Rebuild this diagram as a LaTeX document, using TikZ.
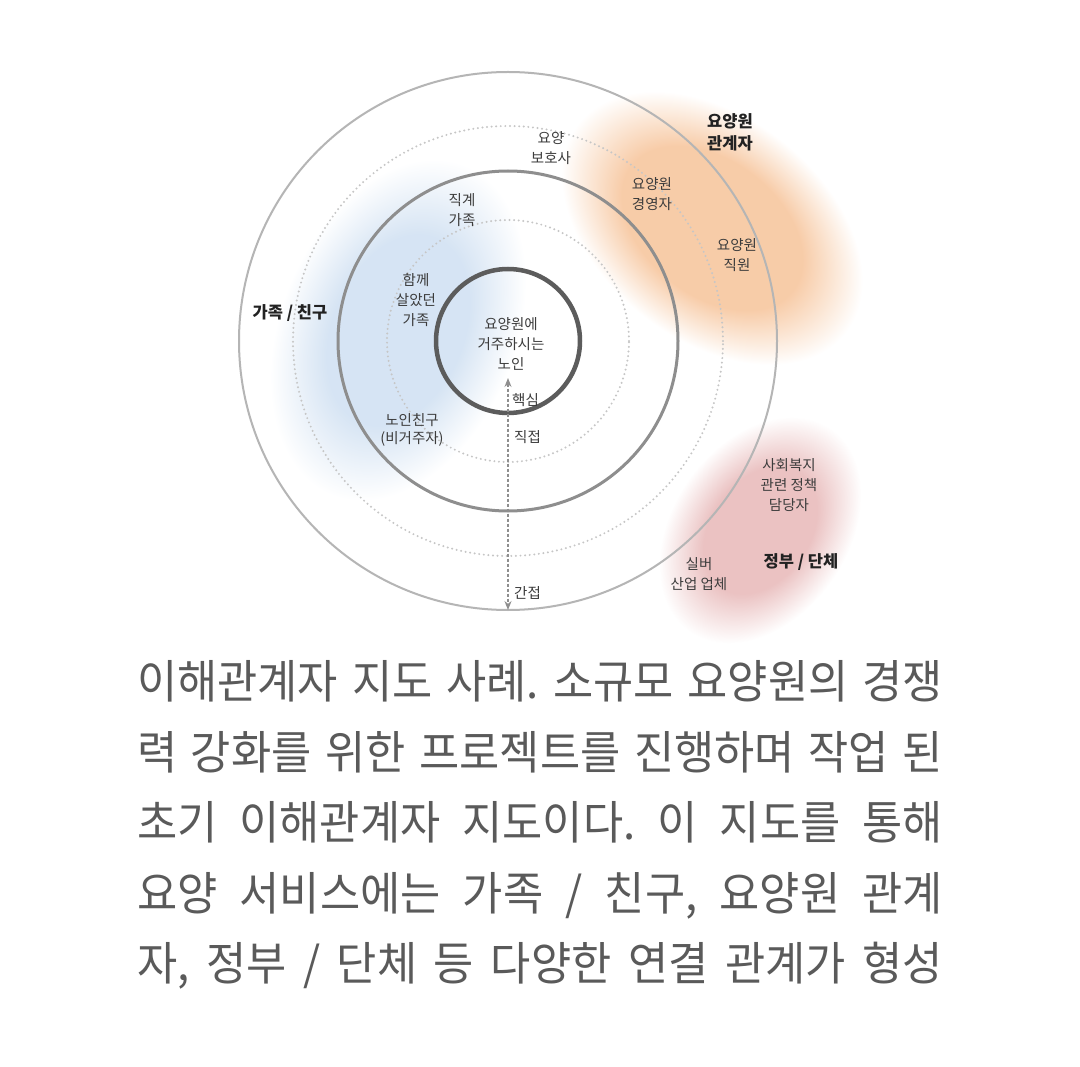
\documentclass[tikz,border=0pt]{standalone}
\usepackage{fontspec}
\setmainfont{Noto Sans CJK KR}
\newfontfamily\capfont[FakeStretch=0.95]{Noto Sans CJK KR}
\usetikzlibrary{shapes,arrows,arrows.meta}
\frenchspacing

\definecolor{ringlight}{HTML}{B5B5B5}
\definecolor{ringmid}{HTML}{8E8E8E}
\definecolor{ringdark}{HTML}{5C5C5C}
\definecolor{dotgray}{HTML}{C6C6C6}
\definecolor{labeltext}{HTML}{3C3C3C}
\definecolor{grouptext}{HTML}{222222}
\definecolor{captext}{HTML}{5A5A5A}

\pgfdeclareradialshading{blueblob}{\pgfpoint{0bp}{0bp}}{rgb(0bp)=(0.84,0.895,0.955); rgb(14bp)=(0.84,0.895,0.955); rgb(25bp)=(1,1,1); rgb(50bp)=(1,1,1)}
\pgfdeclareradialshading{orangeblob}{\pgfpoint{0bp}{0bp}}{rgb(0bp)=(0.97,0.80,0.66); rgb(15bp)=(0.97,0.80,0.66); rgb(25bp)=(1,1,1); rgb(50bp)=(1,1,1)}
\pgfdeclareradialshading{redblob}{\pgfpoint{0bp}{0bp}}{rgb(0bp)=(0.92,0.76,0.76); rgb(14bp)=(0.92,0.76,0.76); rgb(25bp)=(1,1,1); rgb(50bp)=(1,1,1)}

\tikzstyle{scalearrow} = [<->,>={Stealth[length=9pt,width=7pt]}, ringmid, line width=1.3pt, dash pattern=on 3pt off 2pt]
\tikzstyle{ring} = [circle, inner sep=0pt, outer sep=0pt]
\tikzstyle{dotring} = [ring, draw=dotgray, line width=2.2pt, dash pattern=on 0pt off 4.6pt, line cap=round]
\tikzstyle{tag} = [align=center, font=\fontsize{14.5}{20}\selectfont, text=labeltext, inner sep=0pt]
\tikzstyle{grouptag} = [tag, font=\fontsize{16.5}{22}\selectfont\bfseries, text=grouptext]
\tikzstyle{capline} = [font=\capfont\fontsize{46}{50}\selectfont, text=captext, text height=39pt, text depth=6pt, inner sep=0pt]

\begin{document}
\begin{tikzpicture}[x=1pt, y=-1pt, node distance=70.5pt]
\useasboundingbox [fill=white] (0,0) rectangle (1080,1067);

% Soft colour fields
\begin{scope}[transform canvas={shift={(398,330)}, rotate=-22}]
  \shade[shading=blueblob] (0,0) ellipse [x radius=118pt, y radius=178pt];
\end{scope}
\begin{scope}[transform canvas={shift={(712,228)}, rotate=-38}]
  \shade[shading=orangeblob] (0,0) ellipse [x radius=170pt, y radius=112pt];
\end{scope}
\begin{scope}[transform canvas={shift={(760,530)}, rotate=55}]
  \shade[shading=redblob] (0,0) ellipse [x radius=124pt, y radius=88pt];
\end{scope}

% Place nodes
\node (outer) [ring, draw=ringlight, line width=2pt, minimum size=538pt] at (508,341) {};
\node (farring) [dotring, minimum size=430pt] at (508,341) {};
\node (middle) [ring, draw=ringmid, line width=3pt, minimum size=340pt] at (508,341) {};
\node (nearring) [dotring, minimum size=242pt] at (508,341) {};
\node (core) [ring, draw=ringdark, line width=4.5pt, minimum size=144pt] at (508,341) {};
\coordinate (arrowtop) at (508,378);

\node (resident) [tag] at (511,344) {요양원에\\거주하시는\\노인};
\node (housemates) [tag] at (416,300) {함께\\살았던\\가족};
\node (kin) [tag] at (462,210) {직계\\가족};
\node (friends) [tag, font=\fontsize{14.5}{18}\selectfont] at (412,430) {노인친구\\(비거주자)};
\node (familygroup) [grouptag] at (290,313) {가족 / 친구};
\node (careworker) [tag] at (551,148) {요양\\보호사};
\node (director) [tag] at (652,194) {요양원\\경영자};
\node (employee) [tag] at (737,255) {요양원\\직원};
\node (staffgroup) [grouptag] at (730,132) {요양원\\관계자};
\node (welfare) [tag] at (789,485) {사회복지\\관련 정책\\담당자};
\node (industry) [tag] at (699,574) {실버\\산업 업체};
\node (govgroup) [grouptag] at (801,562) {정부 / 단체};
\node (corelbl) [tag, anchor=west] at (512,400) {핵심};
\node (directlbl) [tag, anchor=west] at (514,437) {직접};
\node (indirectlbl) [tag, anchor=west] at (514,593) {간접};

% Draw arrows
\draw [scalearrow] (arrowtop) -- (outer.south);

% Caption
\node (capA) [capline] at (540,682) {\makebox[806pt][s]{이해관계자 지도 사례. 소규모 요양원의 경쟁}};
\node (capB) [capline, below of=capA] {\makebox[806pt][s]{력 강화를 위한 프로젝트를 진행하며 작업 된}};
\node (capC) [capline, below of=capB] {\makebox[806pt][s]{초기 이해관계자 지도이다. 이 지도를 통해}};
\node (capD) [capline, below of=capC] {\makebox[806pt][s]{요양 서비스에는 가족 / 친구, 요양원 관계}};
\node (capE) [capline, below of=capD] {\makebox[806pt][s]{자, 정부 / 단체 등 다양한 연결 관계가 형성}};

\end{tikzpicture}
\end{document}
